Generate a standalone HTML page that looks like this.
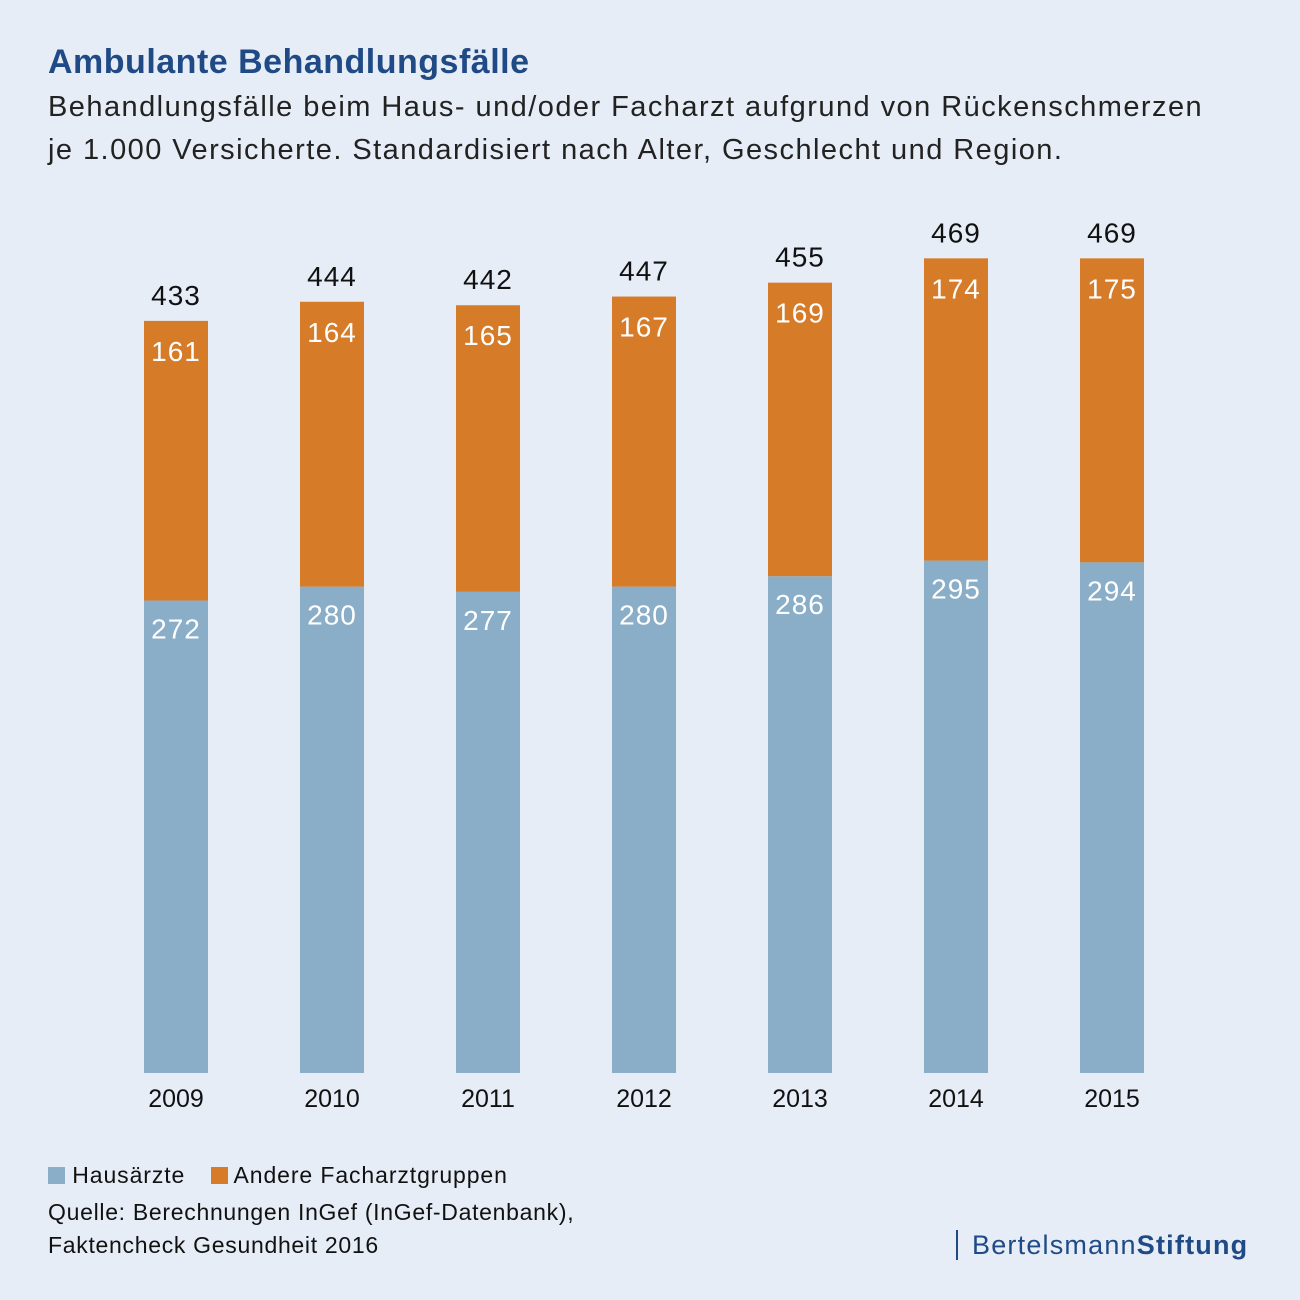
<!DOCTYPE html>
<html><head><meta charset="utf-8"><style>
body{margin:0;width:1300px;height:1300px;background:#e6edf6;font-family:"Liberation Sans",sans-serif;overflow:hidden;position:relative}
.t{position:absolute;left:48px;white-space:nowrap}
</style></head><body>
<div class="t" style="top:43px;font-size:34px;font-weight:bold;color:#1f4a86;letter-spacing:0.5px">Ambulante Behandlungsfälle</div>
<div class="t" style="top:86px;font-size:29px;color:#222;line-height:43px;letter-spacing:1.45px">Behandlungsfälle beim Haus- und/oder Facharzt aufgrund von Rückenschmerzen<br>je 1.000 Versicherte. Standardisiert nach Alter, Geschlecht und Region.</div>
<svg id="chart" width="1300" height="1300" style="position:absolute;left:0;top:0"></svg>
<div class="t" style="top:1162px;font-size:23px;color:#111;letter-spacing:0.9px">
<span><span style="display:inline-block;width:17px;height:17px;background:#8aaec8;vertical-align:-1px"></span> Hausärzte</span>
<span style="margin-left:18px"><span style="display:inline-block;width:17px;height:17px;background:#d67b28;vertical-align:-1px"></span> Andere Facharztgruppen</span></div>
<div class="t" style="top:1196px;font-size:23px;color:#111;line-height:33px;letter-spacing:0.7px">Quelle: Berechnungen InGef (InGef-Datenbank),<br>Faktencheck Gesundheit 2016</div>
<div style="position:absolute;left:956px;top:1230px;font-size:27px;color:#1f4a86;white-space:nowrap;border-left:2px solid #1f4a86;padding-left:14px;line-height:30px;letter-spacing:1.2px">Bertelsmann<b>Stiftung</b></div>
<script>
const years=["2009","2010","2011","2012","2013","2014","2015"];
const haus=[272,280,277,280,286,295,294];
const fach=[161,164,165,167,169,174,175];
const totals=[433,444,442,447,455,469,469];
const svg=document.getElementById('chart');
const NS='http://www.w3.org/2000/svg';
const base=1073,k=1.737,x0=176,step=156,bw=64;
const y=v=>base-v*k, xc=i=>x0+i*step;
function mk(tag,a){const e=document.createElementNS(NS,tag);for(const n in a)e.setAttribute(n,a[n]);svg.appendChild(e);return e;}
years.forEach((yr,i)=>{
  let r=mk('rect',{x:xc(i)-bw/2,y:y(haus[i]),width:bw,height:haus[i]*k,fill:'#8aaec8'});
  
  
  r=mk('rect',{x:xc(i)-bw/2,y:y(haus[i]+fach[i]),width:bw,height:fach[i]*k,fill:'#d67b28'});
  
  
  const lab=(txt,yy,col,nm)=>{const t=mk('text',{x:xc(i),y:yy,'text-anchor':'middle','font-size':28,'letter-spacing':1,fill:col,'font-family':'Liberation Sans, sans-serif'});t.textContent=txt;
    
    };
  lab(totals[i],y(haus[i]+fach[i])-16,'#111','total-label-'+yr);
  lab(fach[i],y(haus[i]+fach[i])+40,'#fff','fach-label-'+yr);
  lab(haus[i],y(haus[i])+38,'#fff','haus-label-'+yr);
  const t=mk('text',{x:xc(i),y:1107,'text-anchor':'middle','font-size':25,fill:'#111','font-family':'Liberation Sans, sans-serif'});t.textContent=yr;
  
  
});
</script>
</body></html>
